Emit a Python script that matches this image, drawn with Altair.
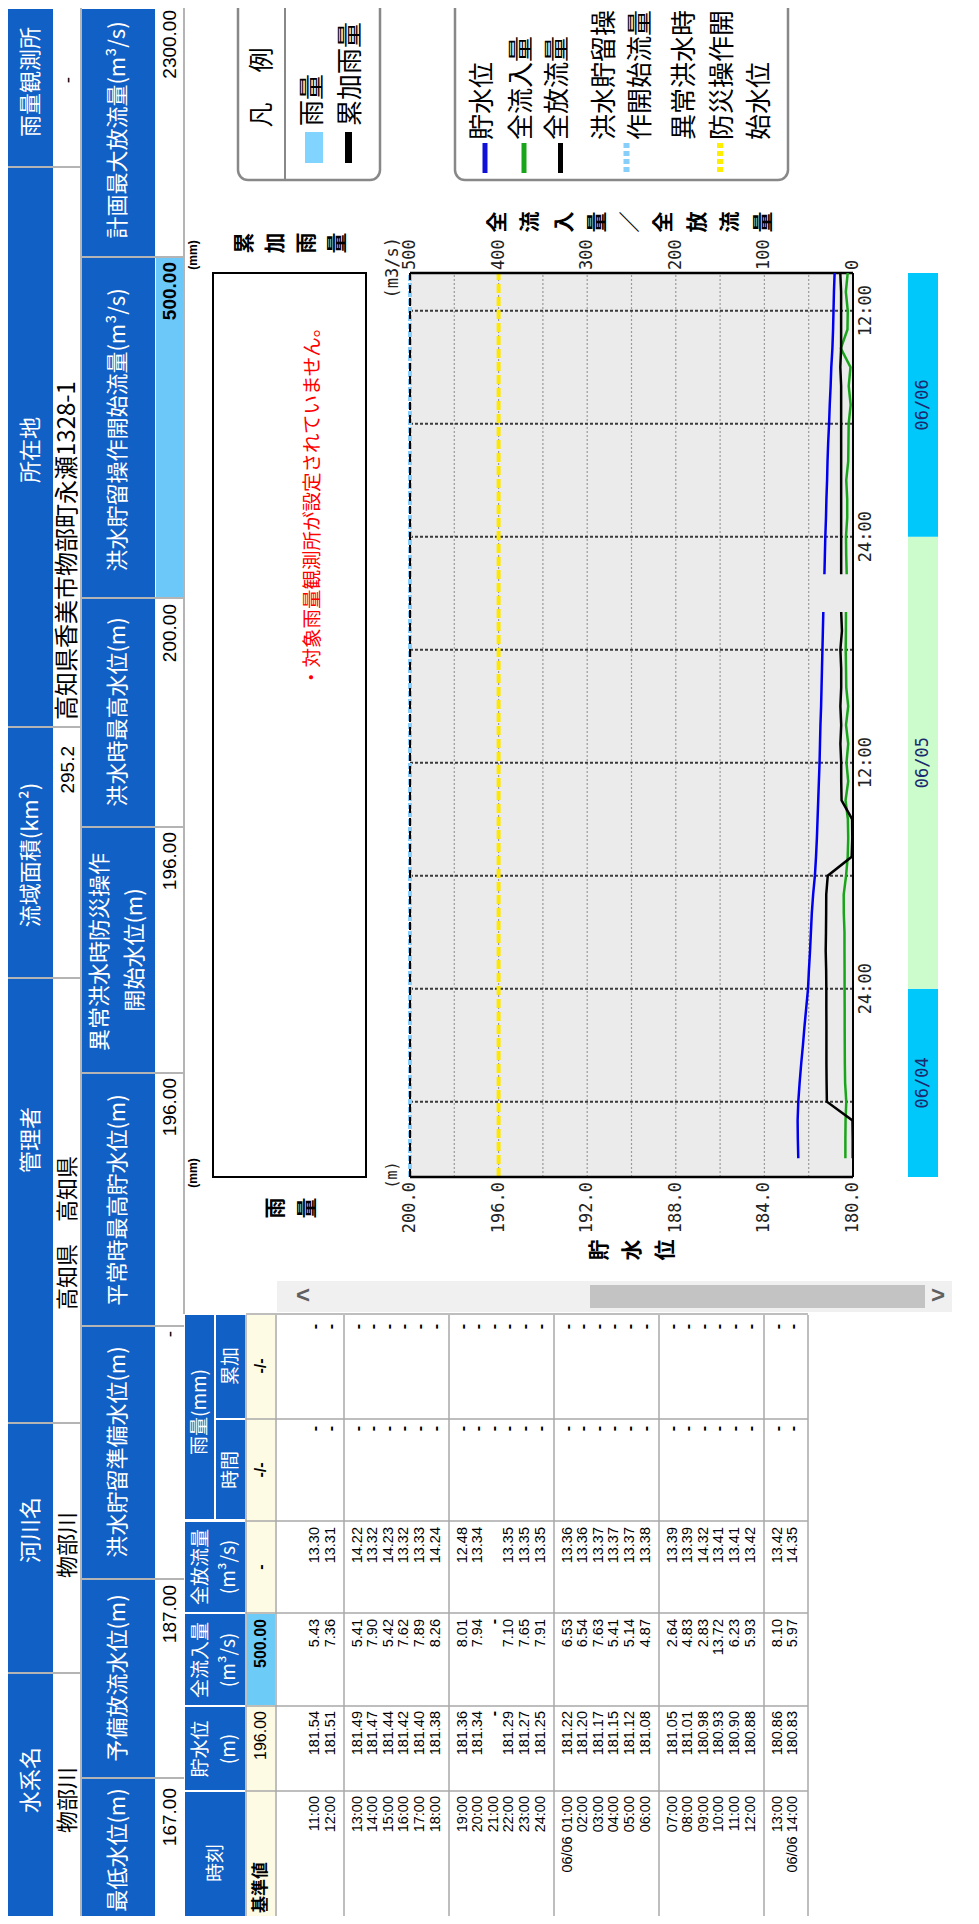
import altair as alt
import pandas as pd

# ---------------- data ----------------
info_labels = ["雨量観測所", "所在地", "流域面積(km²)", "管理者", "河川名", "水系名"]
info_values = ["-", "高知県香美市物部町永瀬1328-1", "295.2", "高知県　高知県", "物部川", "物部川"]
level_labels = ["計画最大放流量(m³/s)", "洪水貯留操作開始流量(m³/s)", "洪水時最高水位(m)",
                "異常洪水時防災操作", "開始水位(m)", "平常時最高貯水位(m)", "洪水貯留準備水位(m)",
                "予備放流水位(m)", "最低水位(m)"]
level_values = ["2300.00", "500.00", "200.00", "196.00", "196.00", "-", "187.00", "167.00"]

row_times = ["11:00", "12:00", "13:00", "14:00", "15:00", "16:00", "17:00", "18:00", "19:00",
             "20:00", "21:00", "22:00", "23:00", "24:00", "06/06 01:00", "02:00", "03:00", "04:00",
             "05:00", "06:00", "07:00", "08:00", "09:00", "10:00", "11:00", "12:00", "13:00",
             "06/06 14:00"]
row_level = [181.54, 181.51, 181.49, 181.47, 181.44, 181.42, 181.40, 181.38, 181.36, 181.34, None,
             181.29, 181.27, 181.25, 181.22, 181.20, 181.17, 181.15, 181.12, 181.08, 181.05, 181.01,
             180.98, 180.93, 180.90, 180.88, 180.86, 180.83]
row_inflow = [5.43, 7.36, 5.41, 7.90, 5.42, 7.62, 7.89, 8.26, 8.01, 7.94, None, 7.10, 7.65, 7.91,
              6.53, 6.54, 7.63, 5.41, 5.14, 4.87, 2.64, 4.83, 2.83, 13.72, 6.23, 5.93, 8.10, 5.97]
row_outflow = [13.30, 13.31, 14.22, 13.32, 14.23, 13.32, 13.33, 14.24, 12.48, 13.34, None, 13.35,
               13.35, 13.35, 13.36, 13.36, 13.37, 13.37, 13.37, 13.38, 13.39, 13.39, 14.32, 13.41,
               13.41, 13.42, 13.42, 14.35]
base_row = ["基準値", "196.00", "500.00", "-", "-/-", "-/-"]

# chart-only part (06/04 15:00 .. 06/05 10:00)
early_level = [182.47, 182.49, 182.50, 182.47, 182.41, 182.34, 182.26, 182.19, 182.11, 182.03,
               181.99, 181.94, 181.90, 181.86, 181.80, 181.72, 181.67, 181.63, 181.60, 181.57]
early_inflow = [8.6, 8.6, 8.4, 7.6, 8.9, 9.2, 9.3, 9.4, 9.4, 9.5,
                9.5, 9.6, 9.6, 10.4, 10.5, 7.8, 6.0, 5.4, 5.8, 8.4]
early_outflow = [0.3, 0.3, 0.6, 29.5, 29.8, 30.0, 30.0, 30.0, 30.1, 30.1,
                 30.3, 30.8, 30.5, 30.3, 30.2, 28.5, 1.5, 0.8, 1.0, 12.9]

level_ticks = [200, 196, 192, 188, 184, 180]
flow_ticks = [500, 400, 300, 200, 100, 0]
time_ticks = [10, 22, 34, 46]            # hours after 06/04 14:00
time_tick_labels = ["24:00", "12:00", "24:00", "12:00"]
day_labels = ["06/04", "06/05", "06/06"]
day_bounds = [0, 10, 34, 48]

legend1 = ["雨量", "累加雨量"]
legend2 = ["貯水位", "全流入量", "全放流量", "洪水貯留操", "作開始流量", "異常洪水時", "防災操作開", "始水位"]

# ---------------- layout ----------------
W, H, M = 963, 1908, 8
JP = "Noto Sans CJK JP"
NUM = "Liberation Sans"
MONO = "DejaVu Sans Mono"
BLUE = "#1160c6"
GRID = "#b4b4b4"
PL, PR, PT, PB = 410, 853, 273, 1177


def PX():
    return alt.Scale(domain=[M, M + W], range=[0, W], nice=False, zero=False)


def PY():
    return alt.Scale(domain=[M, M + H], range=[0, H], nice=False, zero=False)


def TS():
    return alt.Scale(domain=[0, 48], range=[PB - M, PT - M], nice=False, zero=False)


def LV():
    return alt.Scale(domain=[180, 200], range=[PR - M, PL - M], nice=False, zero=False)


def FL():
    return alt.Scale(domain=[0, 500], range=[PR - M, PL - M], nice=False, zero=False)


layers = []


def add_rect(rows, fill, stroke=None, sw=1, cr=None):
    df = pd.DataFrame(rows, columns=["x0", "x1", "y0", "y1"])
    kw = {"fill": fill}
    if stroke is not None:
        kw["stroke"] = stroke
        kw["strokeWidth"] = sw
    if cr is not None:
        kw["cornerRadius"] = cr
    layers.append(alt.Chart(df).mark_rect(**kw).encode(
        x=alt.X("x0:Q", scale=PX(), axis=None), x2="x1:Q",
        y=alt.Y("y0:Q", scale=PY(), axis=None), y2="y1:Q"))


def add_rule(rows, color, sw, dash=None):
    df = pd.DataFrame(rows, columns=["x0", "x1", "y0", "y1"])
    kw = {"color": color, "strokeWidth": sw}
    if dash:
        kw["strokeDash"] = dash
    layers.append(alt.Chart(df).mark_rule(**kw).encode(
        x=alt.X("x0:Q", scale=PX(), axis=None), x2="x1:Q",
        y=alt.Y("y0:Q", scale=PY(), axis=None), y2="y1:Q"))


def add_text(rows, size, color="black", align="center", font=JP, weight="normal", angle=270):
    df = pd.DataFrame(rows, columns=["t", "x", "y"])
    layers.append(alt.Chart(df).mark_text(
        angle=angle, align=align, baseline="middle", fontSize=size, font=font,
        color=color, fontWeight=weight).encode(
        x=alt.X("x:Q", scale=PX(), axis=None), y=alt.Y("y:Q", scale=PY(), axis=None),
        text="t:N"))


# ---------- info header table ----------
b1 = [8, 167, 727, 978, 1423, 1673, 1930]
b2 = [8, 257, 598, 827, 1073, 1326, 1579, 1778, 1930]
add_rect([(8, 53, b1[i] + 1, b1[i + 1] - 1) for i in range(6)] +
         [(82, 155, b2[i] + 1, b2[i + 1] - 1) for i in range(8)], BLUE)
add_rect([(156, 183, 258, 597)], "#6cc8f8")
add_rule([(8, 81, y, y) for y in b1[1:-1]] + [(81, 184, y, y) for y in b2[1:-1]] +
         [(81, 81, 8, 1930), (184, 184, 8, 1314)], GRID, 2)

add_text([(t, 30.5, y) for t, y in zip(info_labels, [82, 450, 855, 1140, 1530, 1780])], 22, "white")
add_text([(level_labels[0], 118, 130), (level_labels[1], 118, 430), (level_labels[2], 118, 712),
          (level_labels[3], 100, 952), (level_labels[4], 135, 950), (level_labels[5], 118, 1200),
          (level_labels[6], 118, 1452), (level_labels[7], 118, 1678), (level_labels[8], 118, 1850)],
         22, "white")
add_text([(info_values[0], 67.5, 80)], 19, font=NUM)
add_text([(info_values[1], 67.5, 720)], 24, align="left")
add_text([(info_values[2], 67.5, 746)], 19, align="right", font=NUM)
add_text([(info_values[3], 67.5, 1233), (info_values[4], 67.5, 1545), (info_values[5], 67.5, 1800)], 22)
vtops = [10, 262, 604, 832, 1078, 1331, 1585, 1788]
add_text([(v, 169.5, y) for i, (v, y) in enumerate(zip(level_values, vtops)) if i != 1], 19,
         align="right", font=NUM)
add_text([(level_values[1], 169.5, vtops[1])], 19, align="right", font=NUM, weight="bold")

# ---------- data table ----------
add_rect([(185, 214, 1315, 1519), (216, 245, 1315, 1418), (216, 245, 1420, 1519),
          (185, 245, 1522, 1612), (185, 245, 1614, 1705), (185, 245, 1707, 1790),
          (185, 245, 1792, 1930)], BLUE)
add_rect([(247, 275, 1315, 1930)], "#fdfbe4")
add_rect([(247, 275, 1614, 1705)], "#6ccbf7")
add_text([("雨量(mm)", 200, 1412), ("累加", 231, 1366), ("時間", 231, 1470),
          ("全放流量", 201, 1567), ("(m³/s)", 229, 1567), ("全流入量", 201, 1660),
          ("(m³/s)", 229, 1660), ("貯水位", 201, 1749), ("(m)", 229, 1749), ("時刻", 216, 1863)],
         19, "white")
vlines = [246, 276, 344, 449, 554, 659, 764, 808]
add_rule([(x, x, 1315, 1930) for x in vlines] +
         [(246, 808, y, y) for y in [1314, 1419, 1521, 1613, 1706, 1791]], "#a8a8a8", 1.5)

add_text([(base_row[0], 261, 1913)], 17, align="left", weight="bold")
add_text([(base_row[1], 261, 1711)], 16, align="right", font=NUM)
add_text([(base_row[2], 261, 1619)], 16, align="right", font=NUM, weight="bold")
add_text([(base_row[3], 261, 1567), (base_row[4], 261, 1366), (base_row[5], 261, 1470)], 16,
         font=NUM, weight="bold")

grp = [0, 0] + [1] * 6 + [2] * 6 + [3] * 6 + [4] * 6 + [5] * 2
rin = [4, 5] + list(range(6)) * 4 + [0, 1]
rx = [239 + 105 * g + 13.5 + 15.6 * r for g, r in zip(grp, rin)]


def fmt(v):
    return "-" if v is None else f"{v:.2f}"


body = []
dashes = []
for i, x in enumerate(rx):
    body.append((row_times[i], x, 1796))
    if row_level[i] is None:
        dashes.append(("-", x, 1711))
    else:
        body.append((fmt(row_level[i]), x, 1711))
    if row_inflow[i] is None:
        dashes.append(("-", x, 1619))
    else:
        body.append((fmt(row_inflow[i]), x, 1619))
    if row_outflow[i] is not None:
        body.append((fmt(row_outflow[i]), x, 1527))
    dashes.append(("-", x, 1426))
    dashes.append(("-", x, 1324))
add_text(body, 14.5, align="right", font=NUM)
add_text(dashes, 16, align="right", font=NUM, weight="bold")

# scroll bar
add_rect([(277, 952, 1281, 1312)], "#f0f0f0")
add_rect([(590, 925, 1285, 1308)], "#c3c3c3")
add_text([("<", 303, 1296), (">", 938, 1296)], 24, "#606060", font=NUM, weight="bold", angle=0)

# ---------- legends ----------
add_rect([(238, 380, -30, 180), (455, 788, -30, 180)], "white", "#888888", 2.5, 10)
add_rule([(285, 285, -30, 180)], "#888888", 2)
add_text([("凡", 262, 115), ("例", 262, 60)], 25)
add_rect([(305, 323, 132, 163)], "#80d4ff")
add_rect([(345, 352, 132, 163)], "black")
add_text([(legend1[0], 313, 126), (legend1[1], 351, 126)], 26, align="left")
add_text([(t, x, 140) for t, x in zip(legend2, [483, 522, 558, 605, 641, 685, 723, 760])], 26,
         align="left")
add_rule([(485, 485, 143, 173)], "#1010d8", 5)
add_rule([(524, 524, 143, 173)], "#19a519", 5)
add_rule([(560.5, 560.5, 143, 173)], "black", 5)
add_rule([(626.5, 626.5, 143, 173)], "#87cefa", 6, [5, 3])
add_rule([(720, 720, 143, 173)], "#ffee00", 6, [5, 3])

# ---------- rain panel ----------
rain_box = pd.DataFrame({"x0": [213], "x1": [366], "h0": [0], "h1": [48]})
layers.append(alt.Chart(rain_box).mark_rect(fill="white", stroke="black", strokeWidth=2).encode(
    x=alt.X("x0:Q", scale=PX(), axis=None), x2="x1:Q",
    y=alt.Y("h0:Q", scale=TS(), axis=None), y2="h1:Q"))
add_text([("・対象雨量観測所が設定されていません。", 313, 687)], 19.5, "#ff0000", align="left")
add_text([("(mm)", 193, 255), ("(mm)", 193, 1173)], 12, font=NUM, weight="bold")
add_text([(c, x, 243) for c, x in zip("累加雨量", [245, 276, 307, 338])], 21, weight="bold")
add_text([(c, x, 1208) for c, x in zip("雨量", [276, 308])], 21, weight="bold")

# ---------- main panel ----------
bg = pd.DataFrame({"a": [200], "b": [180], "h0": [0], "h1": [48]})
layers.append(alt.Chart(bg).mark_rect(fill="#ebebeb").encode(
    x=alt.X("a:Q", scale=LV(), axis=None), x2="b:Q",
    y=alt.Y("h0:Q", scale=TS(), axis=None), y2="h1:Q"))

vgrid = pd.DataFrame({"v": list(range(182, 200, 2)), "h0": 0, "h1": 48})
layers.append(alt.Chart(vgrid).mark_rule(color="#9a9a9a", strokeWidth=1.2, strokeDash=[2, 2]).encode(
    x=alt.X("v:Q", scale=LV(), axis=None),
    y=alt.Y("h0:Q", scale=TS(), axis=None), y2="h1:Q"))

hgrid = pd.DataFrame({"h": [4, 10, 16, 22, 28, 34, 40, 46], "a": 200, "b": 180})
layers.append(alt.Chart(hgrid).mark_rule(color="#3a3a3a", strokeWidth=2, strokeDash=[3, 2]).encode(
    x=alt.X("a:Q", scale=LV(), axis=None), x2="b:Q",
    y=alt.Y("h:Q", scale=TS(), axis=None)))

# reference lines
ref196 = pd.DataFrame({"v": [196], "h0": [0], "h1": [48]})
layers.append(alt.Chart(ref196).mark_rule(color="#ffe800", strokeWidth=4, strokeDash=[9, 4]).encode(
    x=alt.X("v:Q", scale=LV(), axis=None), y=alt.Y("h0:Q", scale=TS(), axis=None), y2="h1:Q"))
ref500 = pd.DataFrame({"f": [500], "h0": [0], "h1": [48]})
layers.append(alt.Chart(ref500).mark_rule(color="#87cefa", strokeWidth=4, strokeDash=[6, 2]).encode(
    x=alt.X("f:Q", scale=FL(), axis=None), y=alt.Y("h0:Q", scale=TS(), axis=None), y2="h1:Q"))
ref200 = pd.DataFrame({"v": [200], "h0": [0], "h1": [48]})
layers.append(alt.Chart(ref200).mark_rule(color="black", strokeWidth=2, strokeDash=[8, 5]).encode(
    x=alt.X("v:Q", scale=LV(), axis=None), y=alt.Y("h0:Q", scale=TS(), axis=None), y2="h1:Q"))

# frame
frame_h = pd.DataFrame({"h": [0, 48], "a": 200, "b": 180})
layers.append(alt.Chart(frame_h).mark_rule(color="black", strokeWidth=2.5).encode(
    x=alt.X("a:Q", scale=LV(), axis=None), x2="b:Q", y=alt.Y("h:Q", scale=TS(), axis=None)))
frame_v = pd.DataFrame({"v": [180], "h0": [0], "h1": [48]})
layers.append(alt.Chart(frame_v).mark_rule(color="black", strokeWidth=2).encode(
    x=alt.X("v:Q", scale=LV(), axis=None), y=alt.Y("h0:Q", scale=TS(), axis=None), y2="h1:Q"))

# series
hours = list(range(1, 49))
levels = early_level + row_level
inflows = early_inflow + row_inflow
outflows = early_outflow + row_outflow
ser = pd.DataFrame({"h": hours, "level": levels, "inflow": inflows, "outflow": outflows})
ser["seg"] = (ser["h"] > 31).astype(int)
ser = ser.dropna()

layers.append(alt.Chart(ser).mark_line(color="#0000ee", strokeWidth=2.5).encode(
    x=alt.X("level:Q", scale=LV(), axis=None), y=alt.Y("h:Q", scale=TS(), axis=None),
    order=alt.Order("h:Q"), detail="seg:N"))
layers.append(alt.Chart(ser).mark_line(color="#19a519", strokeWidth=2.5).encode(
    x=alt.X("inflow:Q", scale=FL(), axis=None), y=alt.Y("h:Q", scale=TS(), axis=None),
    order=alt.Order("h:Q"), detail="seg:N"))
layers.append(alt.Chart(ser).mark_line(color="black", strokeWidth=2.5).encode(
    x=alt.X("outflow:Q", scale=FL(), axis=None), y=alt.Y("h:Q", scale=TS(), axis=None),
    order=alt.Order("h:Q"), detail="seg:N"))

# tick labels
lt = pd.DataFrame({"v": level_ticks, "t": [f"{v:.1f}" for v in level_ticks], "y": 1182})
layers.append(alt.Chart(lt).mark_text(angle=270, align="right", baseline="middle", fontSize=17,
                                      font=MONO, color="#222").encode(
    x=alt.X("v:Q", scale=LV(), axis=None), y=alt.Y("y:Q", scale=PY(), axis=None), text="t:N"))
ft = pd.DataFrame({"f": flow_ticks, "t": [str(v) for v in flow_ticks], "y": 270})
layers.append(alt.Chart(ft).mark_text(angle=270, align="left", baseline="middle", fontSize=17,
                                      font=MONO, color="#222").encode(
    x=alt.X("f:Q", scale=FL(), axis=None), y=alt.Y("y:Q", scale=PY(), axis=None), text="t:N"))
tt = pd.DataFrame({"h": time_ticks, "t": time_tick_labels, "x": 866})
layers.append(alt.Chart(tt).mark_text(angle=270, align="center", baseline="middle", fontSize=17,
                                      font=MONO, color="#222").encode(
    x=alt.X("x:Q", scale=PX(), axis=None), y=alt.Y("h:Q", scale=TS(), axis=None), text="t:N"))
add_text([("(m3/s)", 393, 237)], 17, "#222", align="right", font=MONO)
add_text([("(m)", 392, 1175)], 15, "#222", font=MONO)
add_text([(c, 498 + 33.25 * i, 222) for i, c in enumerate("全流入量／全放流量")], 21, weight="bold")
add_text([(c, x, 1250) for c, x in zip("貯水位", [600, 633, 666])], 21, weight="bold")

# date bar
days = pd.DataFrame({"d": day_labels, "h0": day_bounds[:-1], "h1": day_bounds[1:],
                     "x0": 908, "x1": 938, "xm": 923,
                     "mid": [(a + b) / 2 for a, b in zip(day_bounds[:-1], day_bounds[1:])]})
layers.append(alt.Chart(days).mark_rect().encode(
    x=alt.X("x0:Q", scale=PX(), axis=None), x2="x1:Q",
    y=alt.Y("h0:Q", scale=TS(), axis=None), y2="h1:Q",
    color=alt.Color("d:N", scale=alt.Scale(domain=day_labels, range=["#00c8fa", "#ccfccc", "#00c8fa"]),
                    legend=None)))
layers.append(alt.Chart(days).mark_text(angle=270, align="center", baseline="middle", fontSize=17,
                                        font=MONO, color="#1a2a6e").encode(
    x=alt.X("xm:Q", scale=PX(), axis=None),
    y=alt.Y("mid:Q", scale=TS(), axis=None), text="d:N"))

chart = alt.layer(*layers).resolve_scale(x="independent", y="independent", color="independent").properties(
    width=W, height=H, autosize=alt.AutoSizeParams(type="none"), padding=0, background="white"
).configure_view(stroke=None)

chart.save("out.html", embed_options={"renderer": "svg", "actions": False})
